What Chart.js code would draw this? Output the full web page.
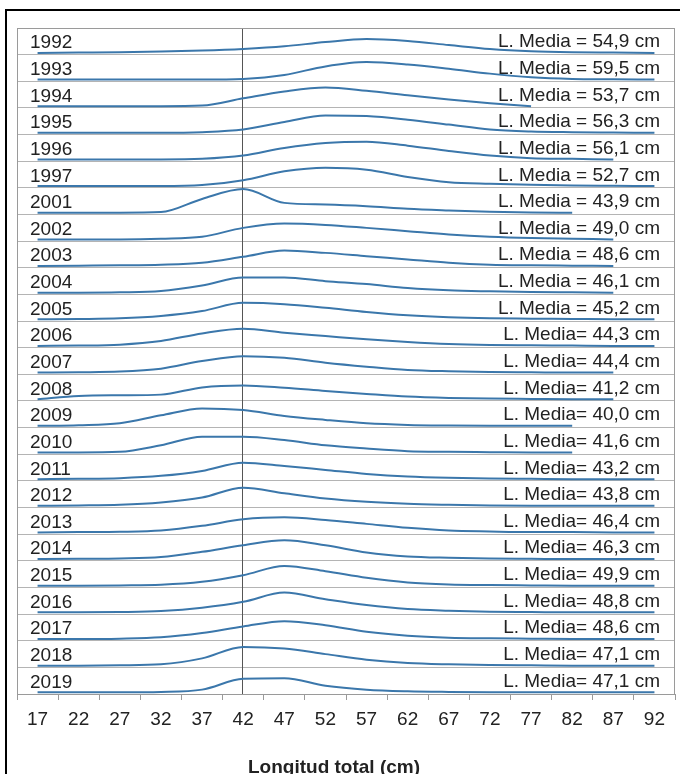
<!DOCTYPE html>
<html>
<head>
<meta charset="utf-8">
<script src="https://cdn.jsdelivr.net/npm/chart.js@4.4.1/dist/chart.umd.min.js"></script>
<style>
  html, body { margin: 0; padding: 0; background: #fff; }
  #wrap { position: relative; width: 680px; height: 774px; }
</style>
</head>
<body>
<div id="wrap"><canvas id="c" width="680" height="774"></canvas></div>
<script>
// ---------- DATA ----------
const lengthBins = ['17','22','27','32','37','42','47','52','57','62','67','72','77','82','87','92'];
const years = ['1992','1993','1994','1995','1996','1997','2001','2002','2003','2004','2005','2006','2007',
               '2008','2009','2010','2011','2012','2013','2014','2015','2016','2017','2018','2019'];
const meanLengths = [54.9, 59.5, 53.7, 56.3, 56.1, 52.7, 43.9, 49.0, 48.6, 46.1, 45.2, 44.3, 44.4,
                     41.2, 40.0, 41.6, 43.2, 43.8, 46.4, 46.3, 49.9, 48.8, 48.6, 47.1, 47.1];
const refLength = '42';
const xTitle = 'Longitud total (cm)';

// relative frequency per 5 cm class (row height = 81 units)
const f1992 = [0,1,2,4,7,12,20,33,42,36,24,12,5,2,1,0];
const f1993 = [0,0,0,0,0,2,14,40,53,46,33,18,7,2,1,0];
const f1994 = [0,0,0,0,2,24,45,57,47,33,20,9,0,null,null,null];
const f1995 = [0,0,0,0,2,10,33,53,51,40,25,10,4,2,1,0];
const f1996 = [0,0,0,0,2,12,35,50,54,42,26,12,4,2,0,null];
const f1997 = [0,0,0,0,3,18,45,56,50,28,12,7,4,2,1,0];
const f2001 = [0,0,0,2,42,72,30,25,20,12,7,3,1,0,null,null];
const f2002 = [0,0,0,2,8,35,48,44,35,25,15,8,4,2,0,null];
const f2003 = [0,1,2,4,10,28,47,40,30,20,10,4,2,1,0,null];
const f2004 = [0,0,1,5,22,46,46,35,26,14,7,4,2,1,0,null];
const f2005 = [0,1,3,10,25,50,46,35,22,12,6,3,2,1,0,0];
const f2006 = [0,1,4,15,38,52,40,30,20,12,6,3,2,1,0,0];
const f2007 = [0,1,3,12,35,50,45,30,18,8,4,2,1,0,0,null];
const f2008 = [0,10,12,14,36,42,35,25,16,8,4,2,1,0,0,null];
const f2009 = [0,2,8,32,53,48,30,18,8,3,1,0,0,0,null,null];
const f2010 = [0,0,2,22,48,48,38,22,12,4,2,1,0,0,null,null];
const f2011 = [0,1,3,10,25,50,40,28,16,8,4,2,1,0,0,0];
const f2012 = [0,1,3,10,25,55,38,22,12,6,3,1,0,0,0,0];
const f2013 = [0,1,2,6,20,40,46,38,26,14,6,3,1,1,0,0];
const f2014 = [0,1,2,6,22,42,57,42,20,8,4,2,1,0,0,0];
const f2015 = [0,0,1,3,12,32,60,44,24,10,4,2,1,0,0,0];
const f2016 = [0,0,1,4,14,32,60,40,22,10,5,2,1,0,0,0];
const f2017 = [0,0,1,5,18,38,54,42,22,10,4,2,1,0,0,0];
const f2018 = [0,0,1,4,22,57,52,35,18,8,4,2,1,0,0,0];
const f2019 = [0,0,0,1,8,41,43,20,8,3,1,0,0,0,0,0];

const freqs = [f1992,f1993,f1994,f1995,f1996,f1997,f2001,f2002,f2003,f2004,f2005,f2006,f2007,
               f2008,f2009,f2010,f2011,f2012,f2013,f2014,f2015,f2016,f2017,f2018,f2019];

// ---------- STYLE / LAYOUT ----------
const ROW_UNITS = 81;        // frequency units per row height
const BASE_OFFSET = 0.065;   // baseline lift inside each row
const nRows = years.length;
const FONT = '"Liberation Sans", Arial, sans-serif';
const LINE_COLOR = '#3b77ab';

const datasets = freqs.map((arr, i) => {
  const base = (nRows - 1 - i) + BASE_OFFSET;
  return {
    label: years[i],
    data: arr.map(v => v === null ? null : base + v / ROW_UNITS),
    borderColor: LINE_COLOR,
    borderWidth: 2,
    pointRadius: 0,
    fill: false,
    cubicInterpolationMode: 'monotone',
    spanGaps: false,
    clip: 4
  };
});

function meanLabel(i) {
  const v = meanLengths[i].toFixed(1).replace('.', ',');
  return (i < 11 ? 'L. Media = ' : 'L. Media= ') + v + ' cm';
}

const overlay = {
  id: 'overlay',
  beforeDraw(chart) {
    const ctx = chart.ctx;
    ctx.save();
    ctx.fillStyle = '#fff';
    ctx.fillRect(0, 0, chart.width, chart.height);
    ctx.restore();
  },
  beforeDatasetsDraw(chart) {
    const { ctx, chartArea: a, scales: { x } } = chart;
    const vx = Math.round(x.getPixelForValue(lengthBins.indexOf(refLength))) - 0.5;
    ctx.save();
    ctx.strokeStyle = '#555';
    ctx.lineWidth = 1;
    ctx.beginPath();
    ctx.moveTo(vx, a.top);
    ctx.lineTo(vx, a.bottom);
    ctx.stroke();
    ctx.restore();
  },
  afterDraw(chart) {
    const { ctx, chartArea: a, scales: { x, y } } = chart;
    ctx.save();
    // plot border
    ctx.strokeStyle = '#9a9a9a';
    ctx.lineWidth = 1;
    ctx.strokeRect(a.left + 0.5, a.top + 0.5, a.right - a.left - 1, a.bottom - a.top);
    // outer frame
    ctx.strokeStyle = '#000';
    ctx.lineWidth = 2;
    ctx.strokeRect(6, 10, 700, 800);
    // row labels
    ctx.fillStyle = '#222';
    ctx.font = '19px ' + FONT;
    ctx.textBaseline = 'alphabetic';
    for (let i = 0; i < nRows; i++) {
      const cy = y.getPixelForValue(nRows - 1 - i + 0.5);
      ctx.textAlign = 'left';
      ctx.fillText(years[i], a.left + 13, cy + 7);
      ctx.textAlign = 'right';
      ctx.fillText(meanLabel(i), a.right - 15, cy + 6);
    }
    // axis title
    ctx.font = 'bold 19px ' + FONT;
    ctx.textAlign = 'center';
    ctx.fillText(xTitle, 334, 773);
    ctx.restore();
  }
};

new Chart(document.getElementById('c'), {
  type: 'line',
  data: { labels: lengthBins, datasets },
  options: {
    responsive: false,
    animation: false,
    devicePixelRatio: 1,
    layout: { padding: { left: 17, right: 5, top: 28, bottom: 35.2 } },
    plugins: { legend: { display: false }, tooltip: { enabled: false } },
    scales: {
      x: {
        type: 'category',
        offset: true,
        grid: { offset: true, drawOnChartArea: false, tickLength: 6, color: '#9a9a9a' },
        border: { display: true, color: '#9a9a9a' },
        ticks: { font: { size: 19, family: FONT }, color: '#222', padding: 8, maxRotation: 0, autoSkip: false }
      },
      y: {
        type: 'linear',
        min: 0,
        max: nRows,
        ticks: { display: false, stepSize: 1 },
        grid: { drawTicks: false, color: '#b4b4b4' },
        border: { display: false }
      }
    }
  },
  plugins: [overlay]
});
</script>
</body>
</html>
